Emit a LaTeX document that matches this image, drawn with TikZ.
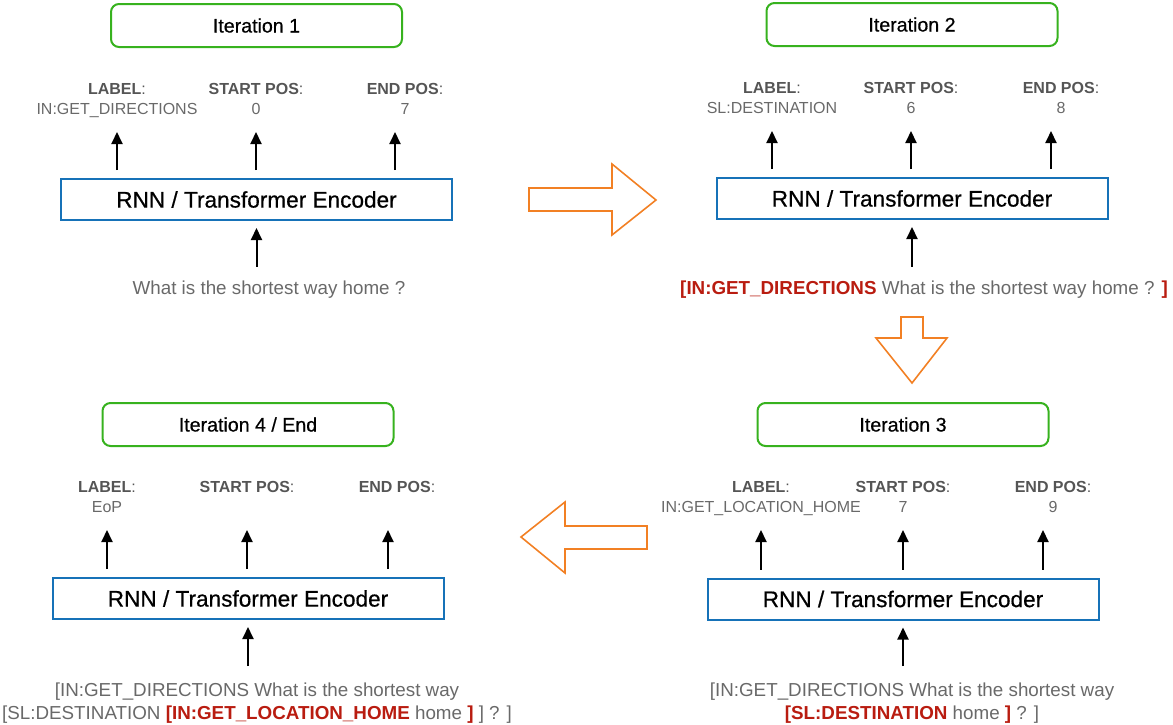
\documentclass[tikz,border=0pt]{standalone}
\usepackage{fontspec}
\setmainfont{Liberation Sans}
\usepackage{tikz}
\usetikzlibrary{arrows.meta}

\definecolor{itergreen}{RGB}{55,178,30}
\definecolor{encblue}{RGB}{22,114,184}
\definecolor{tokred}{RGB}{185,28,16}
\definecolor{headgray}{RGB}{85,85,85}
\definecolor{valgray}{RGB}{105,105,105}
\definecolor{floworange}{RGB}{242,128,36}
\newcommand{\tok}[1]{\textbf{\color{tokred}#1}}

\tikzset{
    iterbox/.style={draw=itergreen, line width=1pt, rounded corners=4pt, minimum width=145.5pt, minimum height=21.5pt, font=\fontsize{9.8}{12}\selectfont\addfontfeature{FakeBold=0.6}},
    encbox/.style={draw=encblue, line width=1pt, minimum width=195.5pt, minimum height=20.5pt, font=\fontsize{11.3}{13}\selectfont\addfontfeature{FakeBold=0.6}},
    head/.style={inner sep=0pt, anchor=base, text=headgray, font=\fontsize{8}{10}\selectfont},
    val/.style={inner sep=0pt, anchor=base, text=valgray, font=\fontsize{8}{10}\selectfont},
    sent/.style={inner sep=0pt, text=valgray, align=center, font=\fontsize{9.4}{11.5}\selectfont},
    uparr/.style={-{Triangle[length=6pt,width=5.5pt]}, line width=1pt},
    outarr/.style={uparr, shorten <=4pt, shorten >=19pt},
    flow/.style={draw=floworange, line width=0.8pt, line join=miter},
}

\begin{document}
\begin{tikzpicture}[x=0.5pt, y=-0.5pt]
    \useasboundingbox (0,0) rectangle (1173,724);

    % iteration 1
    \node[iterbox] (iter1) at (256.5,25.5) {Iteration 1};
    \node[head] (lab1) at (117,94) {\textbf{LABEL}:};
    \node[head] (sp1) at (256,94) {\textbf{START POS}:};
    \node[head] (ep1) at (405,94) {\textbf{END POS}:};
    \node[val] (labv1) at (117,114) {IN:GET\_DIRECTIONS};
    \node[val] (spv1) at (256,114) {0};
    \node[val] (epv1) at (405,114) {7};
    \node[encbox] (enc1) at (256.5,199.5) {RNN / Transformer Encoder};
    \node[sent, anchor=base] (in1) at (269,294) {What is the shortest way home ?};
    \draw[outarr] (enc1.north -| lab1.base) -- (lab1.base);
    \draw[outarr] (enc1.north -| sp1.base) -- (sp1.base);
    \draw[outarr] ([xshift=-5pt]enc1.north -| ep1.base) -- ([xshift=-5pt]ep1.base);
    \draw[uparr, shorten <=6.5pt, shorten >=3.5pt] (enc1.south |- in1.north) -- (enc1.south);

    % iteration 2
    \node[iterbox] (iter2) at (912,24.5) {Iteration 2};
    \node[head] (lab2) at (772,93) {\textbf{LABEL}:};
    \node[head] (sp2) at (911,93) {\textbf{START POS}:};
    \node[head] (ep2) at (1061,93) {\textbf{END POS}:};
    \node[val] (labv2) at (772,113) {SL:DESTINATION};
    \node[val] (spv2) at (911,113) {6};
    \node[val] (epv2) at (1061,113) {8};
    \node[encbox] (enc2) at (912,198.5) {RNN / Transformer Encoder};
    \node[sent, anchor=base] (in2) at (924,294) {\tok{[IN:GET\_DIRECTIONS} What is the shortest way home ? \tok{]}};
    \draw[outarr] (enc2.north -| lab2.base) -- (lab2.base);
    \draw[outarr] (enc2.north -| sp2.base) -- (sp2.base);
    \draw[outarr] ([xshift=-5pt]enc2.north -| ep2.base) -- ([xshift=-5pt]ep2.base);
    \draw[uparr, shorten <=6.5pt, shorten >=3.5pt] (enc2.south |- in2.north) -- (enc2.south);

    % iteration 3
    \node[iterbox] (iter3) at (903,424.5) {Iteration 3};
    \node[head] (lab3) at (761,492) {\textbf{LABEL}:};
    \node[head] (sp3) at (903,492) {\textbf{START POS}:};
    \node[head] (ep3) at (1053,492) {\textbf{END POS}:};
    \node[val] (labv3) at (761,512) {IN:GET\_LOCATION\_HOME};
    \node[val] (spv3) at (903,512) {7};
    \node[val] (epv3) at (1053,512) {9};
    \node[encbox] (enc3) at (903,599) {RNN / Transformer Encoder};
    \node[sent, anchor=north] (in3) at (912,682) {[IN:GET\_DIRECTIONS What is the shortest way\\
        \tok{[SL:DESTINATION} home \tok{]} ? ]};
    \draw[outarr] (enc3.north -| lab3.base) -- (lab3.base);
    \draw[outarr] (enc3.north -| sp3.base) -- (sp3.base);
    \draw[outarr] ([xshift=-5pt]enc3.north -| ep3.base) -- ([xshift=-5pt]ep3.base);
    \draw[uparr, shorten <=8pt, shorten >=3.5pt] (enc3.south |- in3.north) -- (enc3.south);

    % iteration 4 / end
    \node[iterbox] (iter4) at (248,424.5) {Iteration 4 / End};
    \node[head] (lab4) at (107,492) {\textbf{LABEL}:};
    \node[head] (sp4) at (247,492) {\textbf{START POS}:};
    \node[head] (ep4) at (397,492) {\textbf{END POS}:};
    \node[val] (labv4) at (107,512) {EoP};
    \node[encbox] (enc4) at (248,598.5) {RNN / Transformer Encoder};
    \node[sent, anchor=north] (in4) at (257,682) {[IN:GET\_DIRECTIONS What is the shortest way\\
        {}[SL:DESTINATION \tok{[IN:GET\_LOCATION\_HOME} home \tok{]} ] ? ]};
    \draw[outarr] (enc4.north -| lab4.base) -- (lab4.base);
    \draw[outarr] (enc4.north -| sp4.base) -- (sp4.base);
    \draw[outarr] ([xshift=-4.5pt]enc4.north -| ep4.base) -- ([xshift=-4.5pt]ep4.base);
    \draw[uparr, shorten <=8pt, shorten >=3.5pt] (enc4.south |- in4.north) -- (enc4.south);

    % hollow flow arrows between the iterations
    \draw[flow] (529,188) -- (612,188) -- (612,164) -- (656,200) -- (612,235) -- (612,211) -- (529,211) -- cycle;
    \draw[flow] (901,317) -- (923,317) -- (923,338) -- (947,338) -- (912,383) -- (876,338) -- (901,338) -- cycle;
    \draw[flow] (647,526) -- (565,526) -- (565,502) -- (521,537) -- (565,573) -- (565,549) -- (647,549) -- cycle;
\end{tikzpicture}
\end{document}
